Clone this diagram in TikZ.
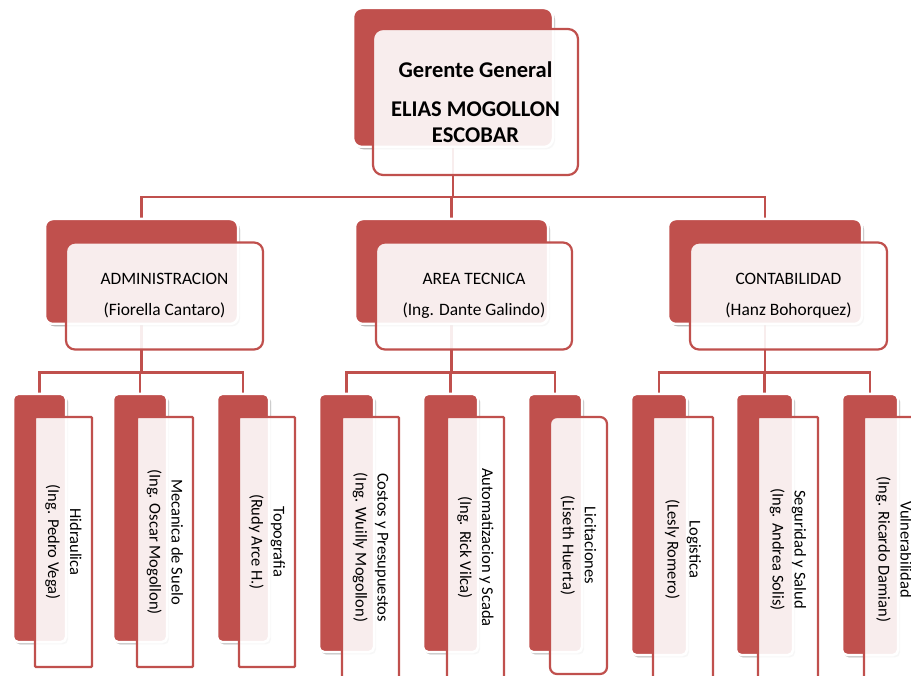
\documentclass[tikz,border=0pt]{standalone}
\usepackage{fontspec}
\setmainfont{Carlito}
\usetikzlibrary{shadows,backgrounds}
\definecolor{accred}{HTML}{C0504D}
\tikzset{
  backbox/.style={shape=rectangle, fill=accred, draw=white, line width=2.5pt,
    rounded corners=#1, inner sep=0pt,
    drop shadow={shadow xshift=2pt, shadow yshift=-2.4pt, opacity=0.3, fill=black}},
  frontbox/.style={shape=rectangle, draw=accred, line width=2.2pt, fill=white,
    fill opacity=0.9, text opacity=1, rounded corners=#1, inner sep=0pt,
    align=center, text=black},
  link/.style={draw=accred, line width=2.8pt},
  topfont/.style={font=\fontsize{22.5}{26}\selectfont\bfseries},
  midfont/.style={font=\fontsize{17.4}{21}\selectfont},
  lowfont/.style={font=\fontsize{16.5}{22}\selectfont},
}
\begin{document}
\begin{tikzpicture}[x=1pt,y=-1pt]
\useasboundingbox (0,0) rectangle (911,676);
\clip (0,0) rectangle (911,676);
% top
\node[backbox=9pt, minimum width=200pt, minimum height=139pt] (topb) at (453,77.5) {};
\node[frontbox=10pt, topfont, minimum width=205pt, minimum height=146pt] (top) at (475.5,102)
  {Gerente General\\[13pt]ELIAS MOGOLLON\\ESCOBAR};
% level 2
\node[backbox=8pt, minimum width=193pt, minimum height=105pt] (admb) at (141.5,271.5) {};
\node[frontbox=9pt, midfont, minimum width=197pt, minimum height=107pt] (adm) at (164.5,296)
  {ADMINISTRACION\\[10pt](Fiorella Cantaro)};
\node[backbox=8pt, minimum width=193pt, minimum height=105pt] (tecb) at (451.5,271.5) {};
\node[frontbox=9pt, midfont, minimum width=196pt, minimum height=107pt] (tec) at (474,296)
  {AREA TECNICA\\[10pt](Ing. Dante Galindo)};
\node[backbox=8pt, minimum width=194pt, minimum height=105pt] (conb) at (765,271.5) {};
\node[frontbox=9pt, midfont, minimum width=197pt, minimum height=107pt] (con) at (788.5,296)
  {CONTABILIDAD\\[10pt](Hanz Bohorquez)};
% level 3 - left group
\node[backbox=5pt, minimum width=53pt, minimum height=248pt] (hidb) at (39.5,518) {};
\node[frontbox=1pt, lowfont, rotate=-90, minimum width=250pt, minimum height=57pt] (hid) at (63.5,542)
  {Hidraulica\\(Ing. Pedro Vega)};
\node[backbox=5pt, minimum width=54pt, minimum height=248pt] (mecb) at (140,518) {};
\node[frontbox=1pt, lowfont, rotate=-90, minimum width=250pt, minimum height=56pt] (mec) at (165,542)
  {Mecanica de Suelo\\(Ing. Oscar Mogollon)};
\node[backbox=5pt, minimum width=52pt, minimum height=248pt] (topob) at (243,518) {};
\node[frontbox=1pt, lowfont, rotate=-90, minimum width=250pt, minimum height=56pt] (topo) at (267,542)
  {Topografia\\(Rudy Arce H.)};
% level 3 - middle group
\node[backbox=5pt, minimum width=55pt, minimum height=258pt] (cosb) at (346.5,523) {};
\node[frontbox=1pt, lowfont, rotate=-90, minimum width=261pt, minimum height=57pt] (cos) at (370.5,547.5)
  {Costos y Presupuestos\\(Ing. Wuilly Mogollon)};
\node[backbox=5pt, minimum width=55pt, minimum height=258pt] (autb) at (450.5,523) {};
\node[frontbox=1pt, lowfont, rotate=-90, minimum width=261pt, minimum height=57pt] (aut) at (475.5,547.5)
  {Automatizacion y Scada\\(Ing. Rick Vilca)};
\node[backbox=5pt, minimum width=54pt, minimum height=258pt] (licb) at (555,523) {};
\node[frontbox=7pt, lowfont, rotate=-90, minimum width=257pt, minimum height=57pt] (lic) at (578.5,545.5)
  {Licitaciones\\(Liseth Huerta)};
% level 3 - right group
\node[backbox=5pt, minimum width=56pt, minimum height=261pt] (logb) at (659,524.5) {};
\node[frontbox=1pt, lowfont, rotate=-90, minimum width=265pt, minimum height=60pt] (log) at (683,549.5)
  {Logistica\\(Lesly Romero)};
\node[backbox=5pt, minimum width=57pt, minimum height=261pt] (segb) at (764.5,524.5) {};
\node[frontbox=1pt, lowfont, rotate=-90, minimum width=265pt, minimum height=60pt] (seg) at (788,549.5)
  {Seguridad y Salud\\(Ing. Andrea Solis)};
\node[backbox=5pt, minimum width=56pt, minimum height=261pt] (vulb) at (870,524.5) {};
\node[frontbox=1pt, lowfont, rotate=-90, minimum width=265pt, minimum height=60pt] (vul) at (894,549.5)
  {Vulnerabilidad\\(Ing. Ricardo Damian)};
% connectors
\begin{pgfonlayer}{background}
\fill[white] (0,0) rectangle (911,676);
\coordinate (bus1) at (0,197);
\coordinate (bus2) at (0,372.5);
\draw[link] (topb.center) -- (topb.center |- bus1);
\draw[link] (admb.north) -- (admb.north |- bus1) -- (conb.north |- bus1) -- (conb.north);
\draw[link] (tecb.north) -- (tecb.north |- bus1);
\draw[link] (admb.center) -- (admb.center |- bus2);
\draw[link] (hidb.north) -- (hidb.north |- bus2) -- (topob.north |- bus2) -- (topob.north);
\draw[link] (mecb.north) -- (mecb.north |- bus2);
\draw[link] (tecb.center) -- (tecb.center |- bus2);
\draw[link] (cosb.north) -- (cosb.north |- bus2) -- (licb.north |- bus2) -- (licb.north);
\draw[link] (autb.north) -- (autb.north |- bus2);
\draw[link] (conb.center) -- (conb.center |- bus2);
\draw[link] (logb.north) -- (logb.north |- bus2) -- (vulb.north |- bus2) -- (vulb.north);
\draw[link] (segb.north) -- (segb.north |- bus2);
\end{pgfonlayer}
\end{tikzpicture}
\end{document}
